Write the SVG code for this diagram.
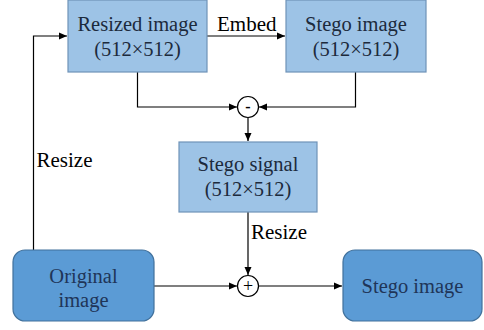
<svg xmlns="http://www.w3.org/2000/svg" width="484" height="330" viewBox="0 0 484 330">
<style>
.light{fill:#9dc3e6;stroke:#6f93b8;stroke-width:1.2}
.dark{fill:#5b9bd5;stroke:#41719c;stroke-width:1.2}
text{font-family:'Liberation Serif',Tinos,'Times New Roman','DejaVu Serif',serif}
.bt{font-size:20.5px;fill:#1c2a3c;text-anchor:middle}
.dt{font-size:20.5px;fill:#1f3558;text-anchor:middle}
.lbl{font-size:21px;fill:#000}
.c{fill:none;stroke:#000;stroke-width:1.2}
.op{fill:#fff;stroke:#000;stroke-width:1.2}
.sym{fill:#000;text-anchor:middle}
</style>
<defs>
<marker id="ah" markerUnits="userSpaceOnUse" markerWidth="9" markerHeight="8" refX="8" refY="4" orient="auto">
<path d="M0,0.5 L8,4 L0,7.5 Z" fill="#000"/>
</marker>
</defs>
<rect width="484" height="330" fill="#fff"/>
<g id="connectors">
<path class="c" d="M33.5,250 V36 H67" marker-end="url(#ah)"/>
<path class="c" d="M207,36 H285" marker-end="url(#ah)"/>
<path class="c" d="M137.5,72 V107 H237" marker-end="url(#ah)"/>
<path class="c" d="M355.5,72 V107 H259" marker-end="url(#ah)"/>
<path class="c" d="M248,118 V141" marker-end="url(#ah)"/>
<path class="c" d="M248,212 V275" marker-end="url(#ah)"/>
<path class="c" d="M154,286 H237" marker-end="url(#ah)"/>
<path class="c" d="M259,286 H342" marker-end="url(#ah)"/>
<text class="lbl" x="217" y="31" font-family="Liberation Serif">Embed</text>
<text class="lbl" x="36.5" y="166.5" font-family="Liberation Serif">Resize</text>
<text class="lbl" x="251" y="239" font-family="Liberation Serif">Resize</text>
</g>
<g id="resized">
<rect class="light" x="68" y="0" width="139" height="72"/>
<text class="bt" x="137.5" y="31">Resized image</text>
<text class="bt" x="137.5" y="56">(512×512)</text>
</g>
<g id="stego-image-512">
<rect class="light" x="286" y="0" width="140" height="72"/>
<text class="bt" x="356" y="31">Stego image</text>
<text class="bt" x="356" y="56">(512×512)</text>
</g>
<g id="minus">
<circle class="op" cx="248" cy="107" r="10.5"/>
<text class="sym" x="248" y="112" font-size="16" font-weight="bold">-</text>
</g>
<g id="stego-signal">
<rect class="light" x="179" y="142" width="138" height="70"/>
<text class="bt" x="248" y="171">Stego signal</text>
<text class="bt" x="248" y="196">(512×512)</text>
</g>
<g id="plus">
<circle class="op" cx="248" cy="286" r="10.5"/>
<text class="sym" x="248" y="292" font-size="18">+</text>
</g>
<g id="original">
<rect class="dark" x="13" y="250" width="141" height="71" rx="12"/>
<text class="dt" x="83.5" y="283">Original</text>
<text class="dt" x="83.5" y="307">image</text>
</g>
<g id="stego-image">
<rect class="dark" x="343" y="250" width="139" height="71" rx="12"/>
<text class="dt" x="412.5" y="293">Stego image</text>
</g>
</svg>
